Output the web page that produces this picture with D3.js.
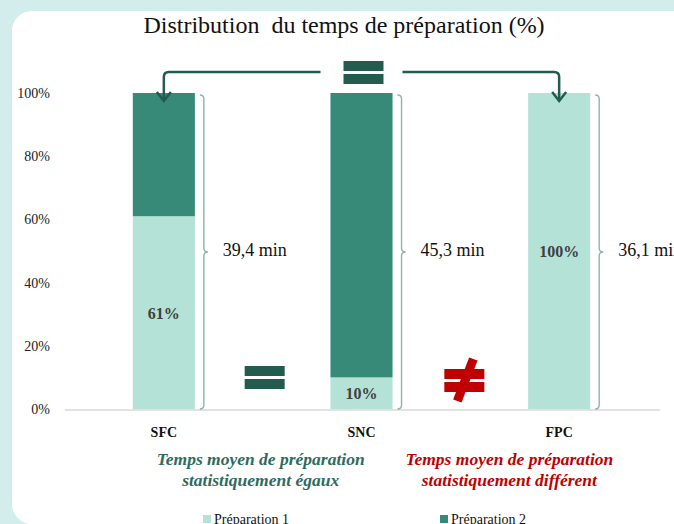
<!DOCTYPE html>
<html lang="fr">
<head>
<meta charset="utf-8">
<title>Distribution du temps de préparation</title>
<script src="https://cdn.jsdelivr.net/npm/d3@7"></script>
<style>
  body { margin: 0; background: #d3ecec; }
  svg { display: block; font-family: "Liberation Serif", "DejaVu Serif", serif; }
  .tick text { font-size: 14px; fill: #222; }
</style>
</head>
<body>
<div id="chart"></div>
<script>
var categories = ["SFC", "SNC", "FPC"];
var prep1 = [61, 10, 100];
var prep2 = [39, 90, 0];
var meanTimes = ["39,4 min", "45,3 min", "36,1 min"];
var yTicks = [0, 20, 40, 60, 80, 100];
var seriesNames = ["Préparation 1", "Préparation 2"];

var width = 674, height = 524;
var c1 = "#b4e2d7", c2 = "#368a77", dark = "#235c4f", red = "#c00000", braceCol = "#8fb3aa";
var serif = "'Liberation Serif', 'DejaVu Serif', serif";

var svg = d3.select("#chart").append("svg")
    .attr("width", width)
    .attr("height", height);

// white panel with rounded corners
svg.append("rect")
    .attr("x", 12).attr("y", 11)
    .attr("width", 700).attr("height", 513)
    .attr("rx", 20)
    .attr("fill", "#fff");

var x = d3.scaleBand()
    .domain(categories)
    .range([65, 658])
    .paddingInner(0.686)
    .paddingOuter(0.343);

var y = d3.scaleLinear().domain([0, 100]).range([409, 93]);

svg.append("text")
    .attr("x", 344).attr("y", 33)
    .attr("text-anchor", "middle")
    .attr("font-size", 24)
    .attr("fill", "#111")
    .style("white-space", "pre")
    .text("Distribution  du temps de préparation (%)");

// y axis
var yAxis = svg.append("g")
    .attr("transform", "translate(65,0)")
    .call(d3.axisLeft(y).tickValues(yTicks).tickSize(0).tickPadding(15).tickFormat(function(d) { return d + "%"; }))
    .attr("font-family", serif)
    .attr("font-size", 14);
yAxis.select(".domain").remove();

// baseline
svg.append("line")
    .attr("x1", 65).attr("x2", 660)
    .attr("y1", y(0) + 1).attr("y2", y(0) + 1)
    .attr("stroke", "#d9d9d9").attr("stroke-width", 1.5);

// stacked bars
var rows = categories.map(function(c, i) { return { cat: c, p1: prep1[i], p2: prep2[i], t: meanTimes[i] }; });

var g = svg.append("g");
g.selectAll("rect.p1").data(rows).enter().append("rect")
    .attr("x", function(d) { return x(d.cat); })
    .attr("width", x.bandwidth())
    .attr("y", function(d) { return y(d.p1); })
    .attr("height", function(d) { return y(0) - y(d.p1); })
    .attr("fill", c1);

g.selectAll("rect.p2").data(rows.filter(function(d) { return d.p2 > 0; })).enter().append("rect")
    .attr("x", function(d) { return x(d.cat); })
    .attr("width", x.bandwidth())
    .attr("y", function(d) { return y(d.p1 + d.p2); })
    .attr("height", function(d) { return y(d.p1) - y(d.p1 + d.p2); })
    .attr("fill", c2);

// value labels for préparation 1
g.selectAll("text.val").data(rows).enter().append("text")
    .attr("x", function(d) { return x(d.cat) + x.bandwidth() / 2; })
    .attr("y", function(d) { return y(d.p1 / 2) + 6; })
    .attr("text-anchor", "middle")
    .attr("font-size", 16)
    .attr("font-weight", "bold")
    .attr("fill", "#404040")
    .text(function(d) { return d.p1 + "%"; });

// braces + mean time
function bracePath(x0, y0, y1) {
  var r = 4, ym = (y0 + y1) / 2;
  return "M" + x0 + "," + y0 +
    "Q" + (x0 + r) + "," + y0 + " " + (x0 + r) + "," + (y0 + r) +
    "L" + (x0 + r) + "," + (ym - r) +
    "Q" + (x0 + r) + "," + ym + " " + (x0 + 2 * r) + "," + ym +
    "Q" + (x0 + r) + "," + ym + " " + (x0 + r) + "," + (ym + r) +
    "L" + (x0 + r) + "," + (y1 - r) +
    "Q" + (x0 + r) + "," + y1 + " " + x0 + "," + y1;
}
g.selectAll("path.brace").data(rows).enter().append("path")
    .attr("d", function(d) { return bracePath(x(d.cat) + x.bandwidth() + 5, y(100) + 2, y(0)); })
    .attr("fill", "none")
    .attr("stroke", braceCol)
    .attr("stroke-width", 1.4);

g.selectAll("text.time").data(rows).enter().append("text")
    .attr("x", function(d) { return x(d.cat) + x.bandwidth() + 28; })
    .attr("y", y(50) + 5)
    .attr("font-size", 18)
    .attr("fill", "#111")
    .text(function(d) { return d.t; });

// category labels
svg.selectAll("text.cat").data(categories).enter().append("text")
    .attr("x", function(d) { return x(d) + x.bandwidth() / 2; })
    .attr("y", 437)
    .attr("text-anchor", "middle")
    .attr("font-size", 14)
    .attr("font-weight", "bold")
    .attr("fill", "#111")
    .text(function(d) { return d; });

// equals sign helper
function equalsSign(cx, cy, col) {
  var s = svg.append("g").attr("transform", "translate(" + cx + "," + cy + ")");
  s.append("rect").attr("x", -20).attr("y", -11).attr("width", 40).attr("height", 10).attr("fill", col);
  s.append("rect").attr("x", -20).attr("y", 2).attr("width", 40).attr("height", 10).attr("fill", col);
  return s;
}

var cx = function(c) { return x(c) + x.bandwidth() / 2; };

// top equals and arrows
equalsSign(cx("SNC") + 2, 72, dark);
function arrowDown(xs, xe) {
  var r = 5, yl = 72, yt = 101;
  var dir = xe < xs ? -1 : 1;
  svg.append("path")
      .attr("d", "M" + xs + "," + yl + "L" + (xe - dir * r) + "," + yl +
        "Q" + xe + "," + yl + " " + xe + "," + (yl + r) + "L" + xe + "," + yt)
      .attr("fill", "none").attr("stroke", dark).attr("stroke-width", 2.5);
  svg.append("path")
      .attr("d", "M" + (xe - 7) + "," + (yt - 9) + "L" + xe + "," + yt + "L" + (xe + 7) + "," + (yt - 9))
      .attr("fill", "none").attr("stroke", dark).attr("stroke-width", 2.5)
      .attr("stroke-linejoin", "miter");
}
arrowDown(cx("SNC") - 41, cx("SFC"));
arrowDown(cx("SNC") + 41, cx("FPC"));

// equals between SFC and SNC
equalsSign((cx("SFC") + cx("SNC")) / 2 + 2, 377, dark);

// not equals between SNC and FPC
var ne = equalsSign((cx("SNC") + cx("FPC")) / 2 + 4, 380, red);
ne.append("line")
    .attr("x1", 9).attr("y1", -21).attr("x2", -7).attr("y2", 21)
    .attr("stroke", red).attr("stroke-width", 9);

// annotations
var ann = [
  { x: (cx("SFC") + cx("SNC")) / 2 - 2, col: "#2e6b5e", lines: ["Temps moyen de préparation", "statistiquement égaux"] },
  { x: (cx("SNC") + cx("FPC")) / 2 + 49, col: red, lines: ["Temps moyen de préparation", "statistiquement différent"] }
];
ann.forEach(function(a) {
  a.lines.forEach(function(l, i) {
    svg.append("text")
        .attr("x", a.x).attr("y", 465 + i * 21)
        .attr("text-anchor", "middle")
        .attr("font-size", 17.5)
        .attr("font-weight", "bold")
        .attr("font-style", "italic")
        .attr("fill", a.col)
        .text(l);
  });
});

// legend
var legX = [203, 440];
seriesNames.forEach(function(n, i) {
  svg.append("rect").attr("x", legX[i]).attr("y", 515).attr("width", 8).attr("height", 8)
      .attr("fill", i === 0 ? c1 : c2);
  svg.append("text").attr("x", legX[i] + 11).attr("y", 524)
      .attr("font-size", 14).attr("fill", "#111").text(n);
});
</script>
</body>
</html>
